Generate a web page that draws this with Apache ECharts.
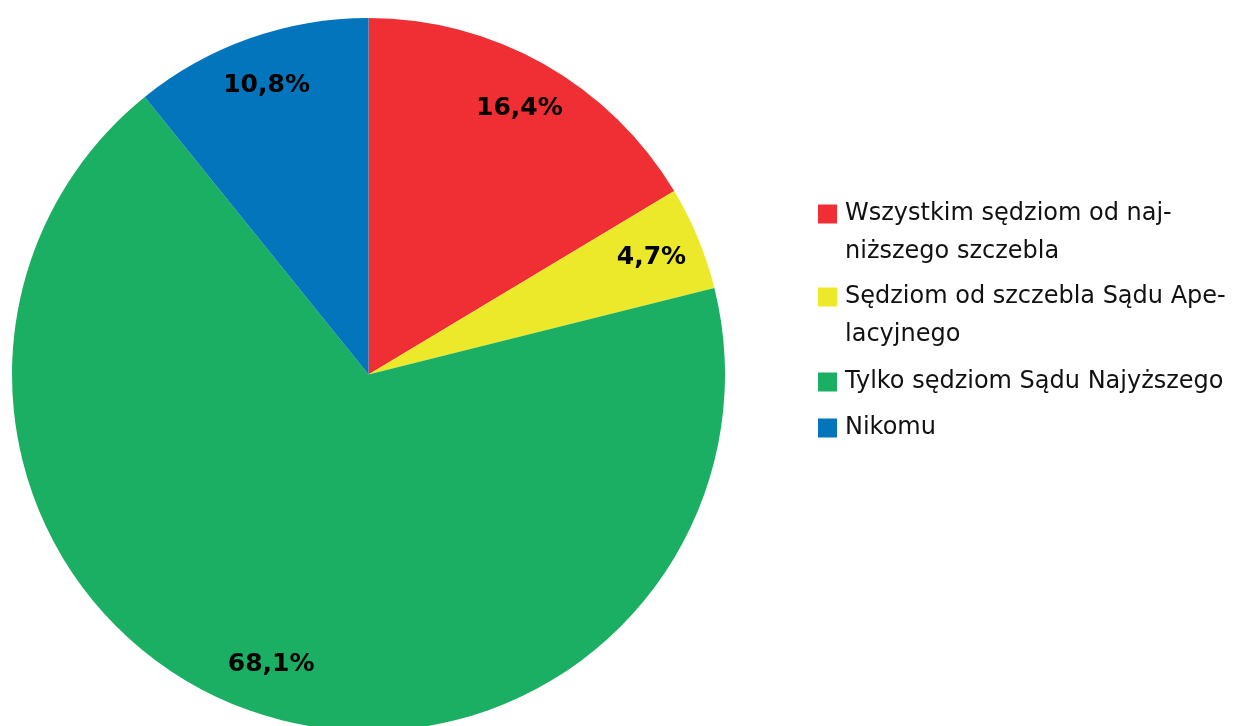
<!DOCTYPE html>
<html>
<head>
<meta charset="utf-8">
<script src="https://cdn.jsdelivr.net/npm/echarts@6/dist/echarts.min.js"></script>
<style>
html, body { margin: 0; padding: 0; background: #fff; }
#chart { width: 1244px; height: 726px; }
</style>
</head>
<body>
<div id="chart"></div>
<script>
// dane
var categories = [
    'Wszystkim sędziom od najniższego szczebla',
    'Sędziom od szczebla Sądu Apelacyjnego',
    'Tylko sędziom Sądu Najyższego',
    'Nikomu'
];
var legendLabels = [
    'Wszystkim sędziom od naj-\nniższego szczebla',
    'Sędziom od szczebla Sądu Ape-\nlacyjnego',
    'Tylko sędziom Sądu Najyższego',
    'Nikomu'
];
var values = [16.4, 4.7, 68.1, 10.8];
var colors = ['#ef2f33', '#ece92b', '#1aaf63', '#0375bc'];

var FONT = 'DejaVu Sans';
var CX = 368.5, CY = 374.5, R = 356.5;

var pieData = categories.map(function (c, i) {
    return { name: c, value: values[i], itemStyle: { color: colors[i] } };
});
var labelData = categories.map(function (c, i) {
    return { name: c, value: values[i] };
});

// osobna legenda dla kazdej pozycji, zeby ikona stala przy pierwszej linii
var legendTops = [157, 240, 363, 409];
var legends = categories.map(function (c, i) {
    return {
        data: [c],
        left: 818,
        top: legendTops[i],
        orient: 'vertical',
        padding: 0,
        itemWidth: 19,
        itemHeight: 19,
        icon: 'rect',
        selectedMode: false,
        formatter: function (name) {
            var t = legendLabels[categories.indexOf(name)];
            return t.indexOf('\n') >= 0 ? '\n' + t : t;
        },
        textStyle: {
            fontFamily: FONT,
            fontSize: 24,
            color: '#111',
            lineHeight: 38,
            padding: [0, 0, 0, 3]
        }
    };
});

var chart = echarts.init(document.getElementById('chart'));
chart.setOption({
    animation: false,
    backgroundColor: '#fff',
    legend: legends,
    series: [
        {
            type: 'pie',
            center: [CX, CY],
            radius: [0, R],
            startAngle: 90,
            clockwise: true,
            silent: true,
            label: { show: false },
            labelLine: { show: false },
            data: pieData
        },
        {
            // przezroczysta warstwa tylko na etykiety (ok. 0.85 promienia)
            type: 'pie',
            center: [CX, CY],
            radius: [250, R],
            startAngle: 90,
            clockwise: true,
            silent: true,
            itemStyle: { color: 'rgba(0,0,0,0)' },
            emphasis: { disabled: true },
            labelLine: { show: false },
            label: {
                show: true,
                position: 'inside',
                fontFamily: FONT,
                fontWeight: 'bold',
                fontSize: 25,
                color: '#000',
                formatter: function (p) {
                    return p.value.toFixed(1).replace('.', ',') + '%';
                }
            },
            data: labelData
        }
    ]
});
</script>
</body>
</html>
